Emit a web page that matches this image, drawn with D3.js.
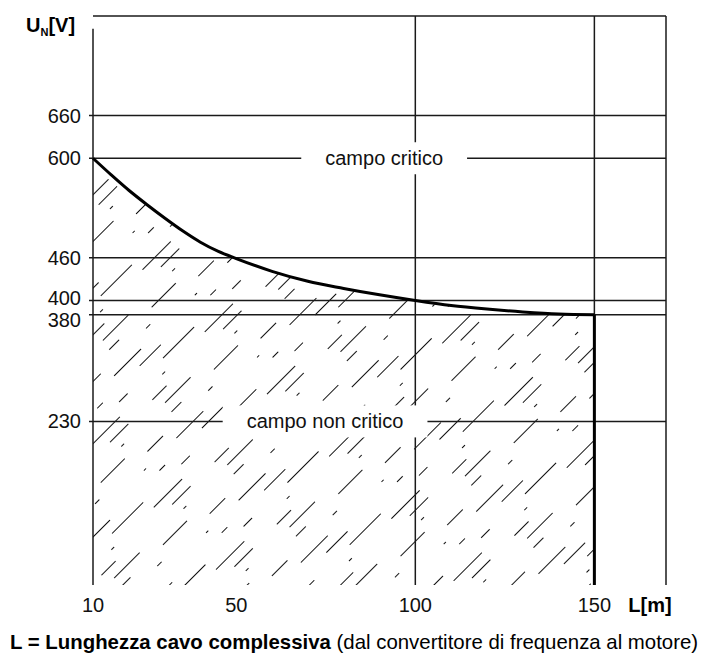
<!DOCTYPE html>
<html lang="it">
<head>
<meta charset="utf-8">
<title>Campo critico</title>
<script src="https://cdnjs.cloudflare.com/ajax/libs/d3/7.8.5/d3.min.js"></script>
<style>
body { margin: 0; background: #fff; }
svg { display: block; font-family: "Liberation Sans", Arial, sans-serif; }
.grid { stroke: #1a1a1a; stroke-width: 1.5; }
.tick { font-size: 20px; fill: #111; }
</style>
</head>
<body>
<div id="chart"></div>
<script>

// valori
var yTicks = [660, 600, 460, 400, 380, 230]
var xTicks = [10, 50, 100, 150]
var xGrid = [100, 150]
var curveL = [10, 15, 20, 25, 30, 35, 40, 45, 50, 60, 70, 80, 90, 100, 110, 120, 130, 140, 150]
var curveU = [600, 577, 555, 535, 516, 498, 482, 469, 459, 441, 427, 417, 408, 400, 393, 388, 384, 381, 380]
var labelText = ['campo critico', 'campo non critico']
var labelL = [91.3, 74.8]
var labelU = [600, 230]

var svgWidth = 707, svgHeight = 653

var x = d3.scaleLinear().domain([10, 170]).range([93, 666])
var y = d3.scaleLinear().domain([0, 800]).range([585, 16])

var svg = d3.select('#chart').append('svg')
    .attr('width', svgWidth)
    .attr('height', svgHeight)

// tratteggio irregolare
var defs = svg.append('defs')
var pat = defs.append('pattern')
    .attr('id', 'hatch')
    .attr('patternUnits', 'userSpaceOnUse')
    .attr('width', 160)
    .attr('height', 88)
    .attr('patternTransform', 'rotate(-45)')
var dashes = [
    ['30 70 8 52', 0], ['12 50 44 54', 40], ['40 60 4 56', 90], ['20 80 26 34', 15],
    ['4 58 36 62', 70], ['34 66 14 46', 110], ['22 64 6 68', 55], ['38 76 3 43', 25]
]
dashes.forEach(function(d, i) {
    pat.append('line')
        .attr('x1', 0).attr('x2', 160)
        .attr('y1', i * 11 + 5).attr('y2', i * 11 + 5)
        .attr('stroke', '#111')
        .attr('stroke-width', 1)
        .attr('shape-rendering', 'crispEdges')
        .attr('stroke-dasharray', d[0])
        .attr('stroke-dashoffset', d[1])
})

var pts = curveL.map(function(d, i) { return [d, curveU[i]] })

// area non critica
svg.append('path')
    .datum(pts)
    .attr('fill', 'url(#hatch)')
    .attr('d', d3.area()
        .x(function(d) { return x(d[0]) })
        .y0(y(0))
        .y1(function(d) { return y(d[1]) })
        .curve(d3.curveMonotoneX))

// griglia orizzontale
svg.selectAll('.hgrid')
    .data(yTicks)
    .enter().append('line')
    .attr('class', 'grid')
    .attr('x1', x(10) - 4).attr('x2', x(170))
    .attr('y1', function(d) { return y(d) })
    .attr('y2', function(d) { return y(d) })

// griglia verticale
svg.selectAll('.vgrid')
    .data(xGrid.concat([170]))
    .enter().append('line')
    .attr('class', 'grid')
    .attr('x1', function(d) { return x(d) })
    .attr('x2', function(d) { return x(d) })
    .attr('y1', y(800)).attr('y2', y(0))

// bordo superiore e asse sinistro
svg.append('line').attr('class', 'grid')
    .attr('x1', x(10)).attr('x2', x(170))
    .attr('y1', y(800)).attr('y2', y(800))
svg.append('line').attr('class', 'grid')
    .attr('x1', x(10)).attr('x2', x(10))
    .attr('y1', y(782)).attr('y2', y(0))

// curva limite
svg.append('path')
    .datum(pts)
    .attr('fill', 'none')
    .attr('stroke', '#000')
    .attr('stroke-width', 3)
    .attr('d', d3.line()
        .x(function(d) { return x(d[0]) })
        .y(function(d) { return y(d[1]) })
        .curve(d3.curveMonotoneX))

svg.append('line')
    .attr('stroke', '#000')
    .attr('stroke-width', 3)
    .attr('x1', x(150)).attr('x2', x(150))
    .attr('y1', y(curveU[curveU.length - 1])).attr('y2', y(0))

// etichette dei campi
labelText.forEach(function(t, i) {
    var g = svg.append('g')
    var txt = g.append('text')
        .attr('class', 'tick')
        .attr('x', x(labelL[i]))
        .attr('y', y(labelU[i]))
        .attr('dy', '0.35em')
        .attr('text-anchor', 'middle')
        .text(t)
    var bb = txt.node().getBBox()
    g.insert('rect', 'text')
        .attr('x', bb.x - 24)
        .attr('width', bb.width + 48)
        .attr('y', y(labelU[i]) - 16)
        .attr('height', 32)
        .attr('fill', '#fff')
})

// etichette asse y (400 e 380 leggermente scostate come nell'originale)
var nudge = { 400: -3, 380: 5 }
svg.selectAll('.ylab')
    .data(yTicks)
    .enter().append('text')
    .attr('class', 'tick')
    .attr('x', 81)
    .attr('y', function(d) { return y(d) + (nudge[d] || 0) })
    .attr('dy', '0.35em')
    .attr('text-anchor', 'end')
    .text(function(d) { return d })

// etichette asse x
svg.selectAll('.xlab')
    .data(xTicks)
    .enter().append('text')
    .attr('class', 'tick')
    .attr('x', function(d) { return x(d) })
    .attr('y', 612)
    .attr('text-anchor', 'middle')
    .text(function(d) { return d })

svg.append('text')
    .attr('x', 650).attr('y', 612)
    .attr('text-anchor', 'middle')
    .attr('font-size', 20).attr('font-weight', 'bold')
    .text('L[m]')

var yt = svg.append('text')
    .attr('x', 26).attr('y', 32)
    .attr('font-size', 20).attr('font-weight', 'bold')
yt.append('tspan').text('U')
yt.append('tspan').attr('font-size', 11).attr('dy', 4).text('N')
yt.append('tspan').attr('dy', -4).text('[V]')

var cap = svg.append('text')
    .attr('x', 10).attr('y', 649)
    .attr('font-size', 20.4)
cap.append('tspan').attr('font-weight', 'bold').text('L = Lunghezza cavo complessiva')
cap.append('tspan').text(' (dal convertitore di frequenza al motore)')

</script>
</body>
</html>
